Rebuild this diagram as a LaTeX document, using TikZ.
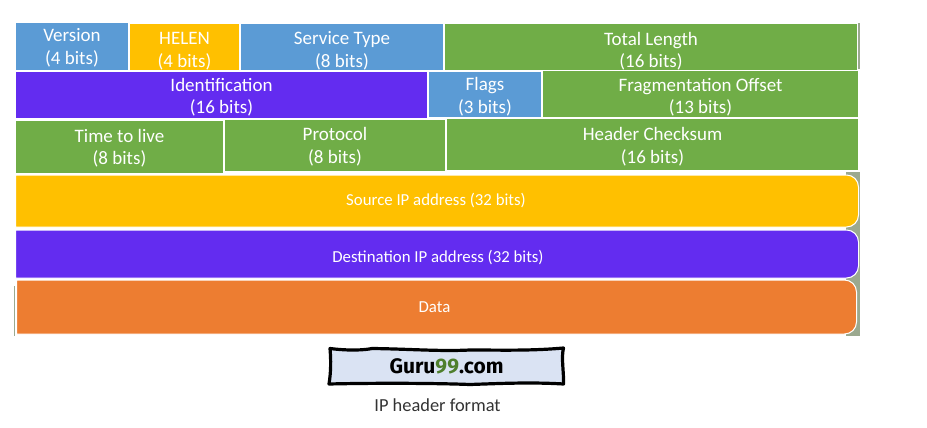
\documentclass[tikz,border=0pt]{standalone}
\usepackage{fontspec}
\setmainfont{Carlito}
\newfontfamily\logofont{Fira Sans}
\definecolor{hdrblue}{HTML}{5B9BD5}
\definecolor{hdryellow}{HTML}{FFC000}
\definecolor{hdrgreen}{HTML}{70AD47}
\definecolor{hdrpurple}{HTML}{632CF0}
\definecolor{hdrorange}{HTML}{ED7D31}
\definecolor{hdrshadow}{HTML}{9BA98F}
\definecolor{logofill}{HTML}{DAE3F3}
\definecolor{logogreen}{HTML}{4F7F2D}
\definecolor{captiontext}{HTML}{333333}
\tikzset{
    hdrbox/.style={rectangle,draw=white,line width=1pt,inner sep=0pt,text=white,align=center,text height=40pt,font=\fontsize{19}{22.5}\selectfont},
    bandbox/.style={draw=white,line width=1pt},
    bandtext/.style={inner sep=0pt,text=white,font=\fontsize{16.8}{20}\selectfont}
}
\begin{document}
\begin{tikzpicture}[x=1pt,y=-1pt]
    \useasboundingbox (0,0) rectangle (927,428);
    % slivers of the shape behind the boxes
    \fill[hdrshadow] (857.5,23)rectangle(859.5,69);
    \fill[hdrshadow] (846,172)rectangle(860,335.5);
    \fill[hdrshadow] (14,286)rectangle(15,335.5);
    % first row
    \draw (72,46.5)node[hdrbox,text height=38pt,fill=hdrblue,minimum width=113pt,minimum height=47.5pt](version){Version\\(4 bits)};
    \draw (184.5,47)node[hdrbox,text height=43pt,fill=hdryellow,minimum width=110pt,minimum height=46.5pt](helen){HELEN\\(4 bits)};
    \draw (342,47)node[hdrbox,text height=43pt,fill=hdrblue,minimum width=203pt,minimum height=46.5pt](service){Service Type\\(8 bits)};
    \draw (651,47)node[hdrbox,text height=44pt,fill=hdrgreen,minimum width=413pt,minimum height=45.5pt](total){Total Length\\(16 bits)};
    % second row
    \draw (221.5,95)node[hdrbox,fill=hdrpurple,minimum width=412pt,minimum height=46.5pt](ident){Identification\\(16 bits)};
    \draw (485,94.5)node[hdrbox,fill=hdrblue,minimum width=113pt,minimum height=45.5pt](flags){Flags\\(3 bits)};
    \draw (700.5,94)node[hdrbox,text height=42pt,fill=hdrgreen,minimum width=316pt,minimum height=47.5pt](fragment){Fragmentation Offset\\(13 bits)};
    % third row
    \draw (119.5,147)node[hdrbox,text height=38pt,fill=hdrgreen,minimum width=208pt,minimum height=52.5pt](ttl){Time to live\\(8 bits)};
    \draw (335,145.5)node[hdrbox,text height=38pt,fill=hdrgreen,minimum width=221pt,minimum height=51.5pt](protocol){Protocol\\(8 bits)};
    \draw (652.5,144.5)node[hdrbox,fill=hdrgreen,minimum width=412pt,minimum height=51.5pt](checksum){Header Checksum\\(16 bits)};
    % bands with rounded right side
    \draw[bandbox,fill=hdryellow] (15.5,175)[rounded corners=12pt]--(858.5,175)--(858.5,227)[sharp corners]--(15.5,227)--cycle;
    \draw[bandbox,fill=hdrpurple] (15.5,230)[rounded corners=12pt]--(858.5,230)--(858.5,278)[sharp corners]--(15.5,278)--cycle;
    \draw[bandbox,fill=hdrorange] (16.5,280)[rounded corners=12pt]--(856.5,280)--(856.5,334)[sharp corners]--(16.5,334)--cycle;
    \draw (436,200.3)node[bandtext](source){Source IP address (32 bits)};
    \draw (438,257.3)node[bandtext](dest){Destination IP address (32 bits)};
    \draw (434.5,307.3)node[bandtext](data){Data};
    % logo
    \draw[line width=3.2pt,fill=logofill,line join=round] (330,348.5) .. controls (350,351) and (365,350) .. (372,348.5) .. controls (410,349) and (440,351.5) .. (470,350) .. controls (500,350) and (530,351) .. (563.5,348) .. controls (561,358) and (564,372) .. (563.5,384) .. controls (530,382) and (500,383.5) .. (470,384.5) .. controls (430,383) and (370,383) .. (329,384) .. controls (331,372) and (331,360) .. (330,348.5) -- cycle;
    \draw (446.5,366)node[inner sep=0pt,font=\logofont\bfseries\fontsize{21}{24}\selectfont](logo){Guru\textcolor{logogreen}{99}.com};
    \draw (437.5,405.5)node[inner sep=0pt,text=captiontext,font=\fontsize{18.4}{20}\selectfont](caption){IP header format};
\end{tikzpicture}
\end{document}
